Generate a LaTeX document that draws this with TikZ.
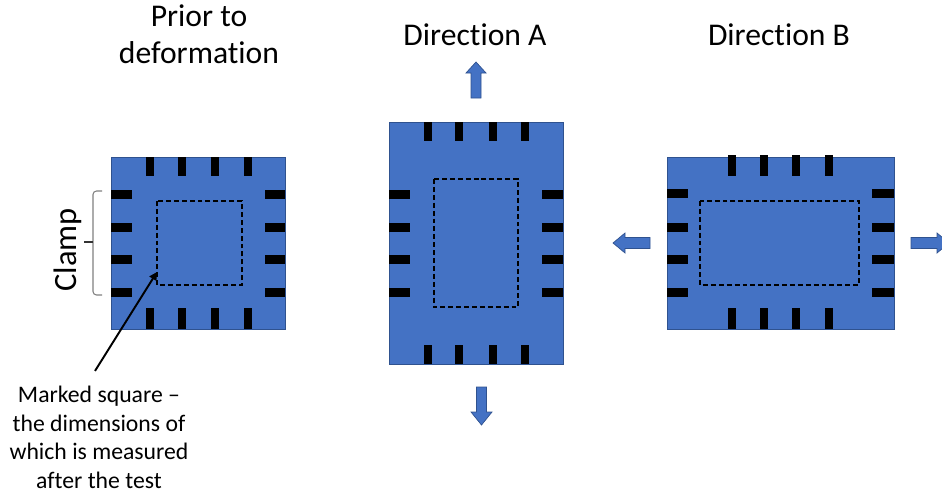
\documentclass[tikz,border=0pt]{standalone}
\usepackage{fontspec}
\setmainfont[RawFeature={-liga;-clig;-calt}]{Carlito}
\usetikzlibrary{arrows.meta}

\definecolor{boxblue}{HTML}{4472C4}
\definecolor{edgeblue}{HTML}{2F528F}
\definecolor{bracegray}{HTML}{7F7F7F}

\tikzset{
  sample/.style={fill=boxblue, draw=edgeblue, line width=0.4pt},
  clampbar/.style={fill=black},
  marked/.style={draw=black, line width=0.6pt, dash pattern=on 2.8pt off 1.7pt},
  pullarrow/.style={fill=boxblue, draw=edgeblue, line width=0.4pt},
  heading/.style={font=\fontsize{18}{21}\selectfont, align=center, anchor=base},
  note/.style={font=\fontsize{13.5}{16.2}\selectfont, align=center, anchor=base}
}

\begin{document}
\begin{tikzpicture}[x=0.02cm, y=-0.02cm]
    \useasboundingbox (0,0) rectangle (942,494);
    \clip (0,0) rectangle (942,494);

    % Titel
    \node[heading] (prior) at (199,63) {Prior to\\deformation};
    \node[heading] (dirA) at (475,45) {Direction A};
    \node[heading] (dirB) at (779,45) {Direction B};

    % Probe vor der Verformung
    \filldraw[sample] (111,157) rectangle (285,329);
    \foreach \x in {150,182,215,248} {
        \fill[clampbar] (\x-4,157) rectangle (\x+4,176);
        \fill[clampbar] (\x-4,308) rectangle (\x+4,329);
    }
    \foreach \y in {194,227,259,292} {
        \fill[clampbar] (111,\y-4.5) rectangle (132,\y+4.5);
        \fill[clampbar] (265,\y-4.5) rectangle (285,\y+4.5);
    }
    \draw[marked] (157,201) rectangle (242,285);

    % Klemme
    \draw[bracegray, line width=0.6pt, rounded corners=2pt]
        (102,191) -- (93,191) -- (93,295) -- (102,295);
    \draw[black!80, line width=0.8pt] (93,242) -- (84,242);
    \node[font=\fontsize{18.5}{22}\selectfont, rotate=90, anchor=base] (clamp) at (76,250) {Clamp};

    % Hinweis
    \node[note] (mark) at (99,488) {Marked square --\\the dimensions of\\which is measured\\after the test};
    \coordinate (corner) at (157,272);
    \draw[line width=1.1pt, -{Triangle[length=4.5pt,width=4.5pt]}]
        ([xshift=-0.08cm,yshift=0.18cm]mark.north) -- (corner);

    % Richtung A
    \filldraw[sample] (389,122) rectangle (563,364);
    \foreach \x in {428,459,493,525} {
        \fill[clampbar] (\x-4,122) rectangle (\x+4,141);
        \fill[clampbar] (\x-4,345) rectangle (\x+4,364);
    }
    \foreach \y in {194,227,259,292} {
        \fill[clampbar] (389,\y-4.5) rectangle (410,\y+4.5);
        \fill[clampbar] (542,\y-4.5) rectangle (563,\y+4.5);
    }
    \draw[marked] (434,179) rectangle (518,307);
    \filldraw[pullarrow] (471,98) -- (471,73) -- (466,73) -- (476,62)
        -- (486,73) -- (481,73) -- (481,98) -- cycle;
    \filldraw[pullarrow] (476.5,387) -- (476.5,412) -- (471,412) -- (481.5,425)
        -- (492,412) -- (486.5,412) -- (486.5,387) -- cycle;

    % Richtung B
    \filldraw[sample] (667,157) rectangle (894,329);
    \foreach \x in {732,764,796,829} {
        \fill[clampbar] (\x-4,155) rectangle (\x+4,176);
        \fill[clampbar] (\x-4,308) rectangle (\x+4,329);
    }
    \foreach \y in {193,227,259,292} {
        \fill[clampbar] (667,\y-4.5) rectangle (688,\y+4.5);
        \fill[clampbar] (872,\y-4.5) rectangle (894,\y+4.5);
    }
    \draw[marked] (700,201) rectangle (859,285);
    \filldraw[pullarrow] (650,237.5) -- (625,237.5) -- (625,233) -- (613,243)
        -- (625,253) -- (625,248.5) -- (650,248.5) -- cycle;
    \filldraw[pullarrow] (911,237.5) -- (937,237.5) -- (937,233) -- (949,243)
        -- (937,253) -- (937,248.5) -- (911,248.5) -- cycle;
\end{tikzpicture}
\end{document}
